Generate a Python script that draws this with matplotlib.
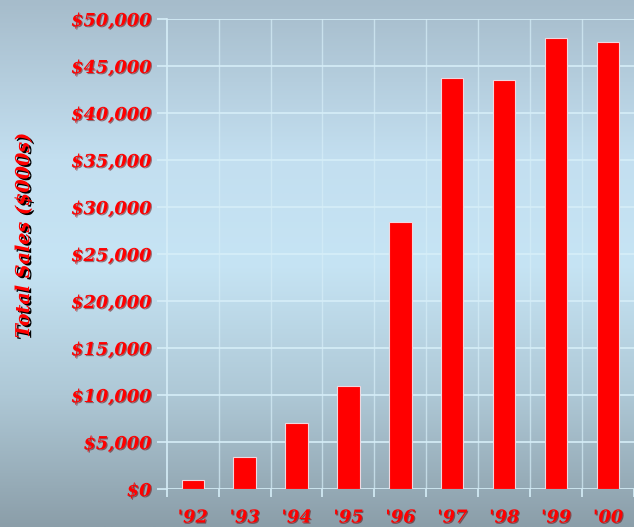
import numpy as np
import matplotlib
matplotlib.use("Agg")
import matplotlib.pyplot as plt
import matplotlib.patheffects as pe
from matplotlib.colors import LinearSegmentedColormap
from matplotlib.font_manager import FontProperties

years = ["'92", "'93", "'94", "'95", "'96", "'97", "'98", "'99", "'00"]
sales = [1000, 3400, 7000, 11000, 28400, 43700, 43500, 48000, 47600]
yticks = [0, 5000, 10000, 15000, 20000, 25000, 30000, 35000, 40000, 45000, 50000]

RED = "#ff0000"
tick_font = FontProperties(family="DejaVu Serif", weight="bold", style="italic", size=12.8)
shadow = [pe.withSimplePatchShadow(offset=(0.8, -0.8), shadow_rgbFace="#600000", alpha=0.5)]

fig = plt.figure(figsize=(6.34, 5.27), dpi=100)

# background gradient (top grey-blue -> light blue -> grey at bottom)
bg = fig.add_axes([0, 0, 1, 1], zorder=0)
bg_cmap = LinearSegmentedColormap.from_list(
    "bg", [(0.0, "#a6bccb"), (0.3, "#c3dff0"), (0.5, "#c6e4f4"),
           (0.75, "#aec8d6"), (1.0, "#8b9ea9")])
bg.imshow(np.linspace(0, 1, 256).reshape(-1, 1), aspect="auto", cmap=bg_cmap,
          extent=[0, 1, 0, 1], origin="upper")
bg.set_axis_off()

ax = fig.add_axes([0.263, 0.072, 0.737, 0.892], zorder=1)
ax.patch.set_alpha(0)
pos = np.arange(len(years))
ax.bar(pos, sales, 0.43, color=RED, edgecolor="#f0d8e0", linewidth=0.8, zorder=3)

ax.set_xlim(-0.5, len(years) - 0.5)
ax.set_ylim(0, 50000)
ax.set_yticks(yticks)
ax.set_yticklabels([f"${v:,}" for v in yticks])
ax.set_xticks(pos)
ax.set_xticklabels(years)
ax.set_xticks(np.arange(-0.5, len(years)), minor=True)

grid_c = "#d6eef8"
for v in yticks:
    ax.axhline(v, color=grid_c, lw=1.2, zorder=1)
for b in np.arange(0.5, len(years) - 0.5):
    ax.axvline(b, color=grid_c, lw=1.0, alpha=0.7, zorder=1)

for s in ["top", "right", "bottom"]:
    ax.spines[s].set_visible(False)
ax.spines["left"].set_color(grid_c)
ax.spines["left"].set_linewidth(1.2)

ax.tick_params(axis="y", length=7, color=grid_c, width=1.2, pad=4)
ax.tick_params(axis="x", which="major", length=0, pad=14)
ax.tick_params(axis="x", which="minor", length=6, color=grid_c, width=1.2)

for lab in ax.get_yticklabels() + ax.get_xticklabels():
    lab.set_fontproperties(tick_font)
    lab.set_color(RED)
    lab.set_path_effects(shadow)

fig.text(0.038, 0.552, "Total Sales ($000s)", rotation=90, ha="center", va="center",
         color=RED, fontsize=13.8, family="DejaVu Serif", weight="bold", style="italic",
         path_effects=[pe.withSimplePatchShadow(offset=(1.5, -1.2),
                                                shadow_rgbFace="black", alpha=1.0)])

fig.savefig("out.png", dpi=100)
